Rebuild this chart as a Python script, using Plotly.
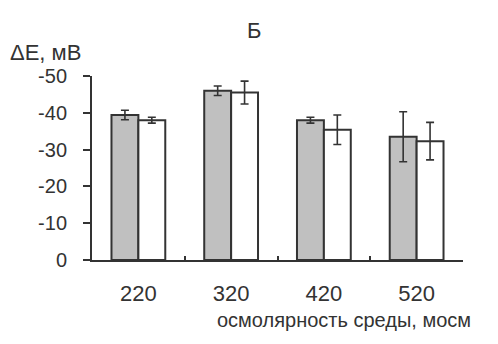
import plotly.graph_objects as go

categories = ["220", "320", "420", "520"]
grey_vals = [-39.4, -46.0, -38.0, -33.5]
grey_err = [1.3, 1.3, 0.8, 6.8]
white_vals = [-38.0, -45.5, -35.4, -32.3]
white_err = [0.8, 3.1, 4.0, 5.1]
ytick_vals = [0, -10, -20, -30, -40, -50]
ytick_text = ["0", "-10", "-20", "-30", "-40", "-50"]

INK = "#333333"
FONT = "Liberation Sans, Arial, sans-serif"

fig = go.Figure()
fig.add_trace(go.Bar(
    x=categories, y=grey_vals,
    marker=dict(color="#c0c0c0", line=dict(color=INK, width=2)),
    error_y=dict(type="data", array=grey_err, visible=True,
                 color=INK, thickness=1.6, width=4),
    showlegend=False,
))
fig.add_trace(go.Bar(
    x=categories, y=white_vals,
    marker=dict(color="#ffffff", line=dict(color=INK, width=2)),
    error_y=dict(type="data", array=white_err, visible=True,
                 color=INK, thickness=1.6, width=4),
    showlegend=False,
))

fig.update_layout(
    width=498, height=344,
    margin=dict(l=84, r=43, t=68, b=92),
    paper_bgcolor="white", plot_bgcolor="white",
    barmode="group", bargap=0.42, bargroupgap=0,
    font=dict(family=FONT, color=INK),
    xaxis=dict(
        type="category", showline=True, linecolor=INK, linewidth=2,
        ticks="inside", tickson="boundaries", ticklen=4, tickwidth=2, tickcolor=INK,
        tickfont=dict(size=22, color=INK), showgrid=False, zeroline=False,
        ticklabelstandoff=13,
    ),
    yaxis=dict(
        range=[0, -50], tickvals=ytick_vals, ticktext=ytick_text,
        showline=True, linecolor=INK, linewidth=2,
        ticks="outside", ticklen=7, tickwidth=2, tickcolor=INK,
        tickfont=dict(size=20, color=INK), showgrid=False, zeroline=False,
        ticklabelstandoff=12,
    ),
    annotations=[
        dict(text="Б", xref="paper", yref="paper", x=0.437, y=1.25,
             xanchor="center", yanchor="middle", showarrow=False,
             font=dict(size=22, color=INK)),
        dict(text="ΔE, мВ", xref="paper", yref="paper", x=-0.226, y=1.13,
             xanchor="left", yanchor="middle", showarrow=False,
             font=dict(size=22, color=INK)),
        dict(text="осмолярность среды, мосм", xref="paper", yref="paper",
             x=1.027, y=-0.326, xanchor="right", yanchor="middle", showarrow=False,
             font=dict(size=20, color=INK)),
    ],
)

fig.write_html("out.html")
